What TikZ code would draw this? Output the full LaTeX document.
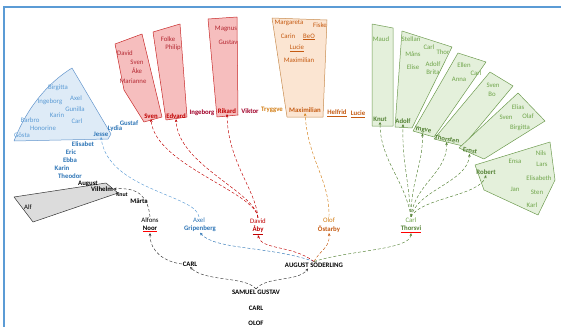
\documentclass[tikz,border=0pt]{standalone}
\usepackage{fontspec}
\setmainfont{Carlito}
\usetikzlibrary{arrows.meta}
\definecolor{framec}{RGB}{91,155,213}
\definecolor{bluetx}{RGB}{46,117,182}
\definecolor{bluelt}{RGB}{91,155,213}
\definecolor{bluefill}{RGB}{222,235,247}
\definecolor{blueline}{RGB}{100,150,205}
\definecolor{redtx}{RGB}{192,0,0}
\definecolor{rednm}{RGB}{180,40,50}
\definecolor{reddk}{RGB}{160,0,40}
\definecolor{redfill}{RGB}{246,190,190}
\definecolor{redline}{RGB}{200,40,40}
\definecolor{orgtx}{RGB}{197,90,17}
\definecolor{orgtx2}{RGB}{210,125,20}
\definecolor{orgfill}{RGB}{251,229,210}
\definecolor{orgline}{RGB}{200,140,80}
\definecolor{grntx}{RGB}{84,130,53}
\definecolor{grnnm}{RGB}{112,165,75}
\definecolor{grnfill}{RGB}{228,240,219}
\definecolor{grnline}{RGB}{110,155,80}
\definecolor{greyfill}{RGB}{220,220,220}
\newcommand\fs{\fontsize{6.8}{7.5}\selectfont}
\newcommand\rul[1]{\rlap{\color{red}\underline{\phantom{#1}}}#1}
\begin{document}
\begin{tikzpicture}[x=1pt,y=-1pt,
  t/.style={font=\fs, inner sep=0.5pt},
  b/.style={font=\fs\bfseries, inner sep=0.5pt},
  conn/.style={densely dashed, line width=0.45pt, -{Stealth[length=3pt,width=2.6pt]}},
  shp/.style={line width=0.5pt, line join=round},
]
\useasboundingbox (0,0) rectangle (561,326);
\clip (0,0) rectangle (561,326);
\draw[framec, line width=1.6pt] (4,340) -- (4,7) -- (580,7);

% ---------- shapes ----------
\draw[shp, draw=blueline, fill=bluefill] (72,68) -- (111,134) -- (108,139) -- (14,141) .. controls (26,110) and (46,84) .. cycle;
\draw[shp, draw=black!80, fill=greyfill] (14,197) -- (33,222) -- (118,193) -- (106,183) -- cycle;
\draw[shp, draw=redline, fill=redfill] (115,44) -- (142,34) -- (162,117) -- (144,122) -- (124,90) -- cycle;
\draw[shp, draw=redline, fill=redfill] (153,32) -- (180,24) -- (187,117) -- (166,120) -- cycle;
\draw[shp, draw=redline, fill=redfill] (208,19) -- (237,17) -- (238,115) -- (217,117) -- cycle;
\draw[shp, draw=orgline, fill=orgfill] (272,18) -- (327,20) -- (323,117) -- (287,117) -- cycle;
\draw[shp, draw=grnline, fill=grnfill] (372,126) -- (372,24) -- (393,28) -- (393,126) -- cycle;
\draw[shp, draw=grnline, fill=grnfill] (395,127) -- (402,31) -- (452,47) -- (412,128) -- cycle;
\draw[shp, draw=grnline, fill=grnfill] (413,131) -- (458,53) -- (486,62) -- (434,137) -- cycle;
\draw[shp, draw=grnline, fill=grnfill] (434,139) -- (490,72) -- (513,86) -- (463,146) -- cycle;
\draw[shp, draw=grnline, fill=grnfill] (459,148) -- (518,93) -- (545,121) -- (484,159) -- cycle;
\draw[shp, draw=grnline, fill=grnfill] (475,165) -- (550,142) -- (555,180) -- (538,215) -- (484,190) -- cycle;

% ---------- blue fan ----------
\begin{scope}[every node/.style={t, text=bluelt}]
\node (bBirgitta) at (58,88) {Birgitta};
\node (bAxel) at (76,98) {Axel};
\node (bIngeborg) at (50,102) {Ingeborg};
\node (bGunilla) at (75,109) {Gunilla};
\node (bKarin) at (57,115) {Karin};
\node (bBarbro) at (30,120) {Barbro};
\node (bCarl) at (77,121) {Carl};
\node (bHonorine) at (43,128) {Honorine};
\node (bGosta) at (22,135) {Gösta};
\end{scope}
\begin{scope}[every node/.style={b, text=bluetx}]
\node (jesse) at (101,134) {Jesse};
\node (lydia) at (115,129) {Lydia};
\node (gustaf) at (129,123) {Gustaf};
\node (elisabet) at (83,144) {Elisabet};
\node (eric) at (71,152) {Eric};
\node (ebba) at (70,160) {Ebba};
\node (karinB) at (62,168) {Karin};
\node (theodor) at (70,176) {Theodor};
\end{scope}

% ---------- black group ----------
\node[t] (alf) at (28,207) {Alf};
\node[b] (august) at (88,184) {August};
\node[b] (vilhelm) at (102,189) {Vilhelm};
\node[b, font=\fontsize{5.8}{6}\selectfont\bfseries] (knutK) at (122,195) {Knut};
\node[b] (marta) at (139,201) {Märta};

% ---------- red boxes ----------
\begin{scope}[every node/.style={t, text=rednm}]
\node (rDavid) at (125,53) {David};
\node (rSven) at (137,62) {Sven};
\node (rAke) at (137,71) {Åke};
\node (rMarianne) at (133,81) {Marianne};
\node (rFolke) at (168,39) {Folke};
\node (rPhilip) at (173,48) {Philip};
\node (rMagnus) at (226,29) {Magnus};
\node (rGustav) at (228,42) {Gustav};
\end{scope}
\node[b, text=redtx] (sven) at (151,116) {Sven};
\node[b, text=redtx] (edvard) at (176,116) {Edvard};
\node[b, text=redtx] (rikard) at (227,111) {Rikard};
\node[b, text=reddk] (ingeborg) at (202,113) {Ingeborg};
\node[b, text=reddk] (viktor) at (250,111) {Viktor};

% ---------- orange box ----------
\begin{scope}[every node/.style={t, text=orgtx}]
\node (oMargareta) at (289,23) {Margareta};
\node (oFiske) at (320,25) {Fiske};
\node (oCarin) at (288,36) {Carin};
\node (oBeO) at (309,37) {\underline{BeO}};
\node (oLucie) at (297,48) {\underline{Lucie}};
\node (oMax) at (299,60) {Maximilian};
\end{scope}
\node[b, text=orgtx2] (tryggve) at (272,110) {Tryggve};
\node[b, text=orgtx] (maxl) at (305,110) {Maximilian};
\node[b, text=orgtx] (helfrid) at (337,113) {\underline{Helfrid}};
\node[b, text=orgtx] (lucie) at (358,114) {\underline{Lucie}};

% ---------- green wedges ----------
\begin{scope}[every node/.style={t, text=grnnm}]
\node (gMaud) at (381,39) {Maud};
\node (gStellan) at (411,39) {Stellan};
\node (gCarl1) at (429,47) {Carl};
\node (gThor) at (443,52) {Thor};
\node (gMans) at (413,54) {Måns};
\node (gElise) at (413,67) {Elise};
\node (gAdolf) at (433,64) {Adolf};
\node (gBrita) at (433,72) {Brita};
\node (gEllen) at (464,65) {Ellen};
\node (gCarl2) at (476,73) {Carl};
\node (gAnna) at (459,79) {Anna};
\node (gSven1) at (493,85) {Sven};
\node (gBo) at (492,94) {Bo};
\node (gElias) at (518,107) {Elias};
\node (gSven2) at (506,117) {Sven};
\node (gOlaf) at (528,116) {Olaf};
\node (gBirgitta) at (520,128) {Birgitta};
\node (gNils) at (541,153) {Nils};
\node (gEnsa) at (515,161) {Ensa};
\node (gLars) at (542,164) {Lars};
\node (gElisabeth) at (539,178) {Elisabeth};
\node (gJan) at (515,189) {Jan};
\node (gSten) at (537,192) {Sten};
\node (gKarl) at (532,205) {Karl};
\end{scope}
\begin{scope}[every node/.style={b, text=grntx}]
\node (knut) at (380,119) {Knut};
\node (adolf) at (403,121) {Adolf};
\node[rotate=-10] (yngve) at (423,130) {Yngve};
\node[rotate=-10] (thorsten) at (447,139) {Thorsten};
\node[rotate=-10] (ernst) at (470,151) {Ernst};
\node (robert) at (486,172) {Robert};
\end{scope}

% ---------- bottom labels ----------
\node[b] (samuel) at (256,292) {SAMUEL GUSTAV};
\node[b] (carlC) at (256,308) {CARL};
\node[b] (olofB) at (256,323) {OLOF};
\node[b] (carlB) at (190,264) {CARL};
\node[b] (aug) at (314,265) {AUGUST SÖDERLING};
\node[t] (alfons) at (150,220) {Alfons};
\node[b] (noor) at (150,229) {\rul{Noor}};
\node[t, text=bluetx] (axel) at (199,220) {Axel};
\node[b, text=bluetx] (grip) at (200,229) {Gripenberg};
\node[t, text=redtx] (david) at (258,221) {David};
\node[b, text=redtx] (aby) at (258,230) {\underline{Åby}};
\node[t, text=orgtx2] (olofO) at (329,220) {Olof};
\node[b, text=orgtx] (ost) at (329,229) {Östarby};
\node[t, text=grnnm] (carlT) at (411,220) {Carl};
\node[b, text=grntx] (thorsvi) at (411,229) {\rul{Thorsvi}};

% ---------- connectors ----------
\draw[conn, black!80] (samuel.north) .. controls (246,276) and (205,282) .. (carlB.south);
\draw[conn, black!80] (samuel.north) .. controls (266,276) and (298,282) .. ([xshift=-6pt]aug.south);
\draw[conn, bluetx] (aug.north) .. controls (270,246) and (215,250) .. (grip.south);
\draw[conn, redtx] (aug.north) .. controls (292,245) and (262,250) .. (aby.south);
\draw[conn, orgtx] (aug.north) .. controls (320,250) and (330,248) .. (ost.south);
\draw[conn, grntx] (aug.north) .. controls (350,250) and (410,250) .. (thorsvi.south);
\draw[conn, black!80] (carlB.west) .. controls (165,262) and (150,252) .. (noor.south);
\draw[conn, black!80] (alfons.north) .. controls (148,198) and (140,187) .. (vilhelm.east);
\draw[conn, bluelt] (axel.north) .. controls (197,195) and (108,190) .. (jesse.south);
\draw[conn, redtx] (david.north) .. controls (256,192) and (155,165) .. (sven.south);
\draw[conn, redtx] (david.north) .. controls (256,192) and (178,165) .. (edvard.south);
\draw[conn, redtx] (david.north) .. controls (256,190) and (228,162) .. (rikard.south);
\draw[conn, orgtx2] (olofO.north) .. controls (330,180) and (308,160) .. (maxl.south);
\draw[conn, grntx] (carlT.north) .. controls (405,180) and (380,160) .. (knut.south);
\draw[conn, grntx] (carlT.north) .. controls (408,175) and (402,160) .. (adolf.south);
\draw[conn, grntx] (carlT.north) .. controls (411,180) and (423,165) .. (yngve.south);
\draw[conn, grntx] (carlT.north) .. controls (414,185) and (448,172) .. (thorsten.south);
\draw[conn, grntx] (carlT.north) .. controls (417,190) and (468,182) .. (ernst.south);
\draw[conn, grntx] (carlT.north) .. controls (420,198) and (480,196) .. (robert.south);
\end{tikzpicture}
\end{document}
